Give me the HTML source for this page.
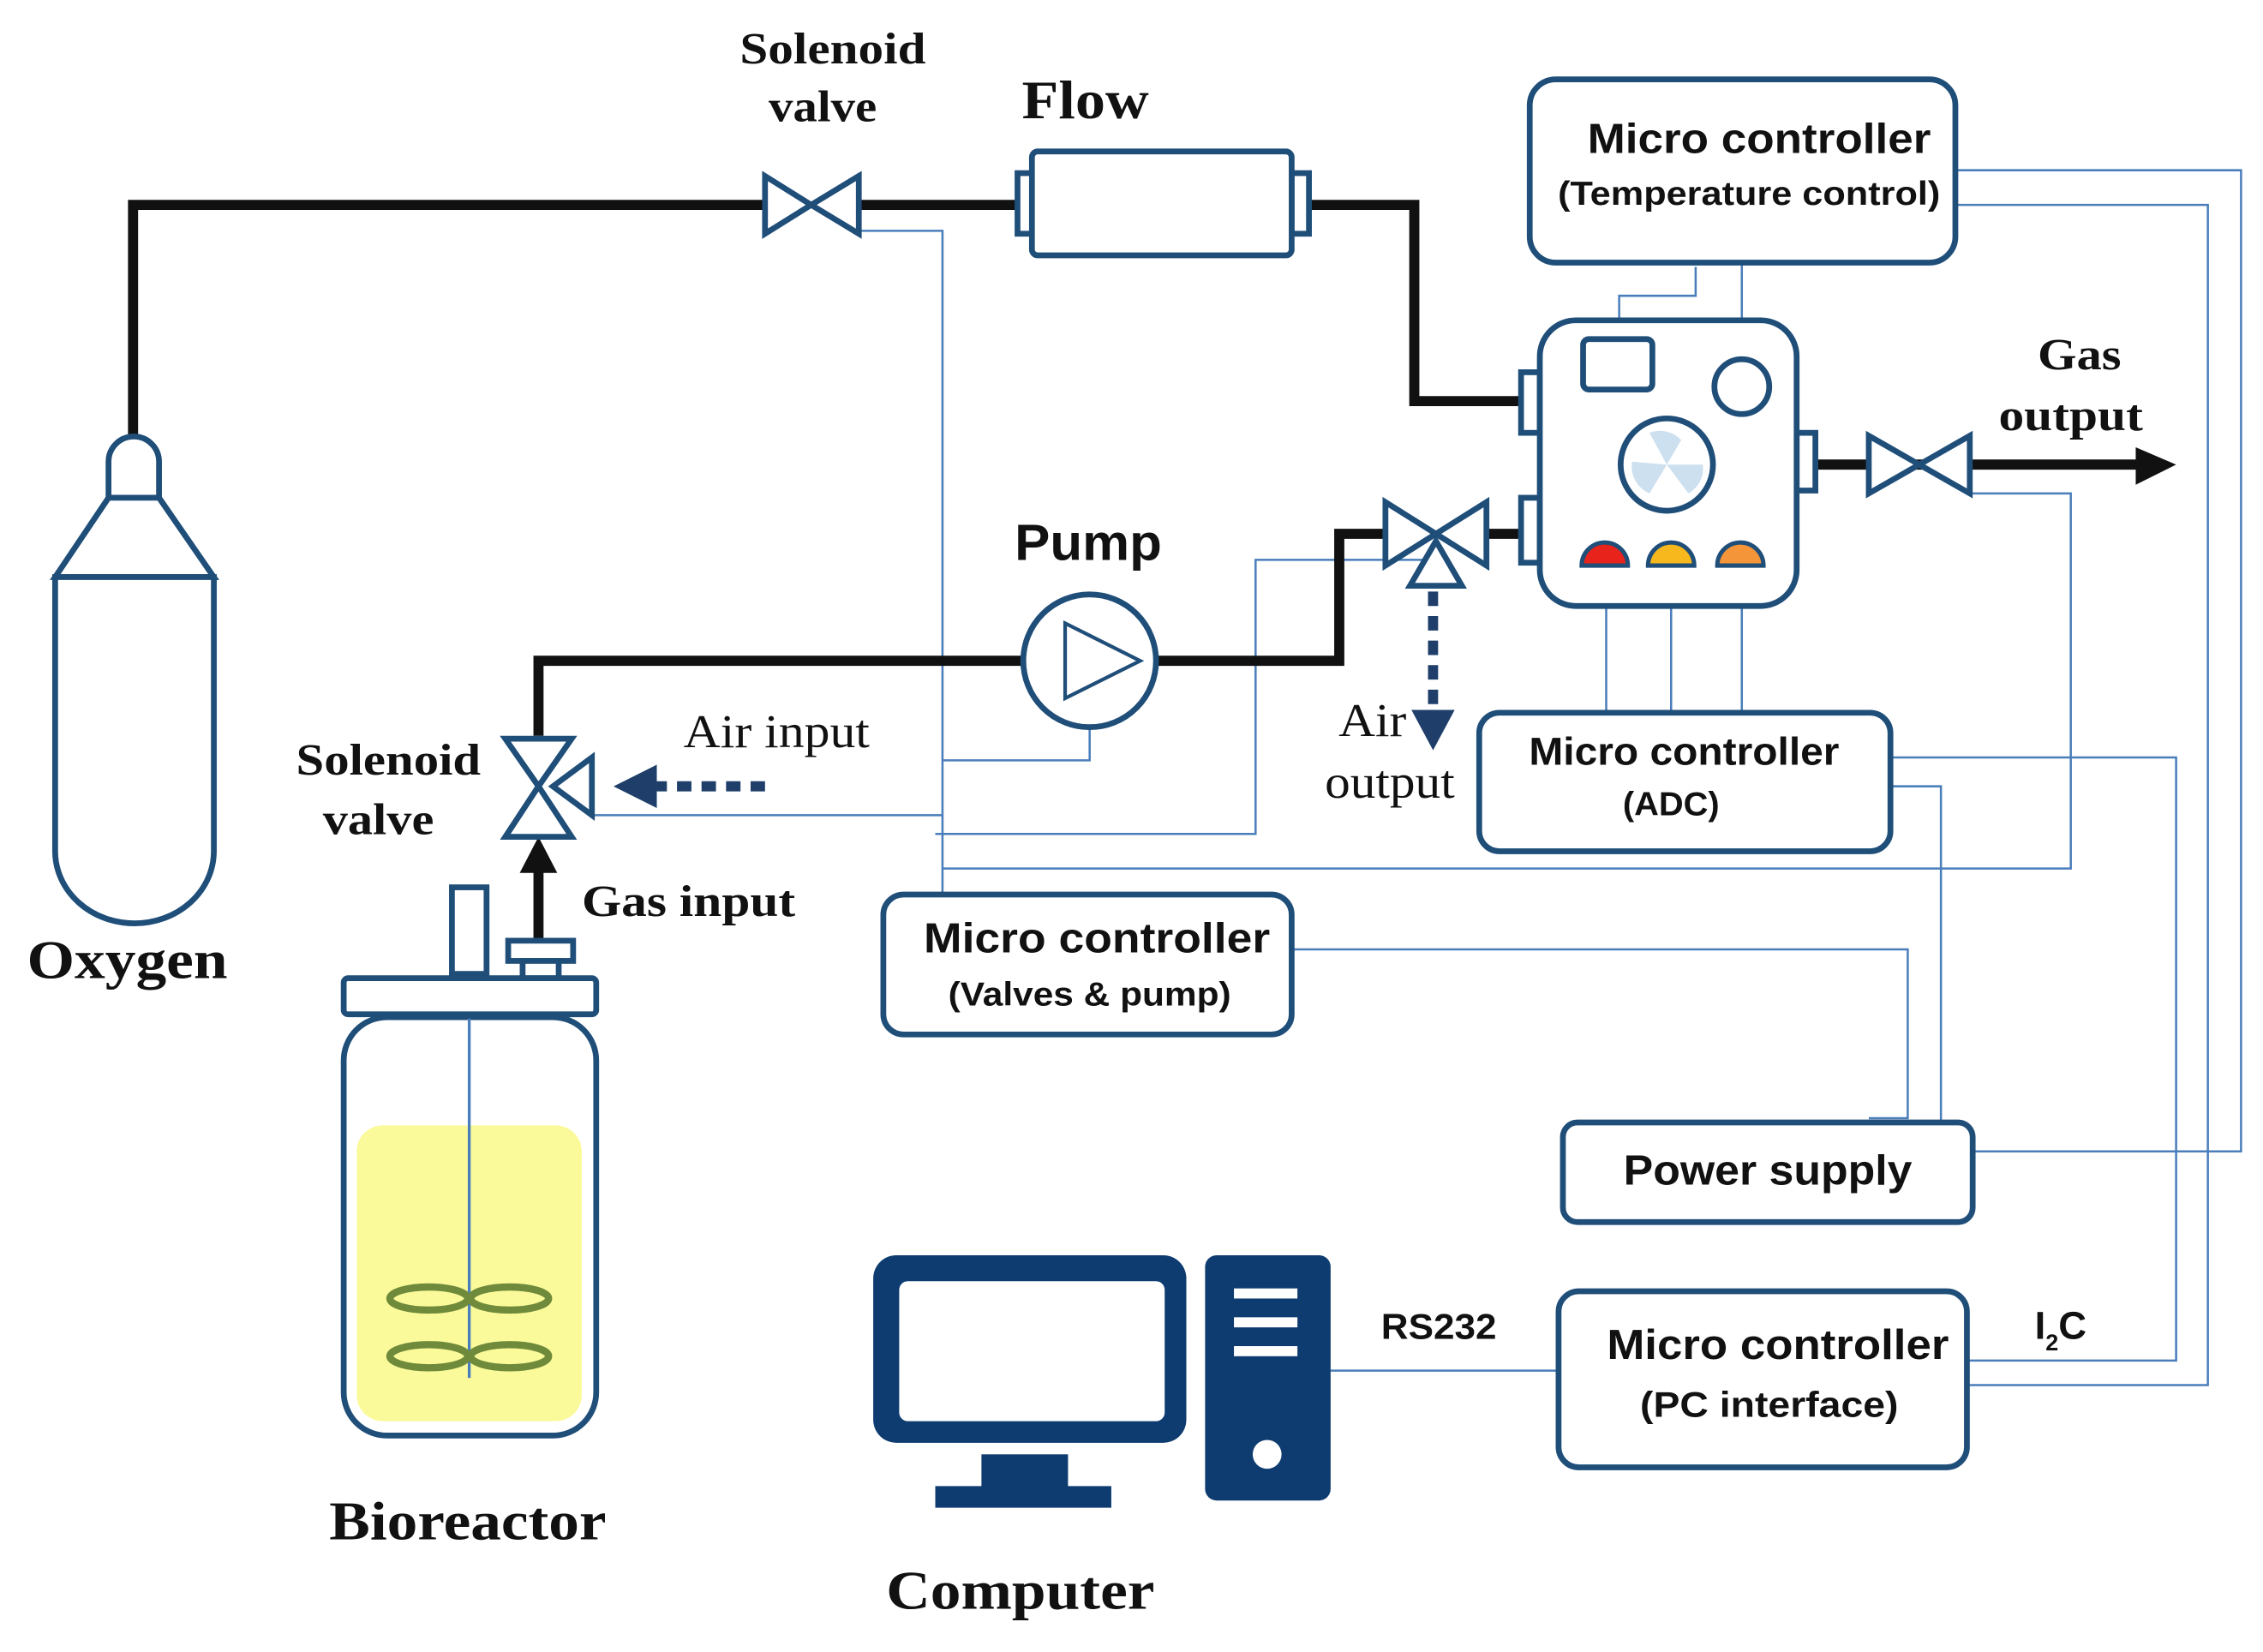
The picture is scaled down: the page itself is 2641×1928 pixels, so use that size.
<!DOCTYPE html>
<html><head><meta charset="utf-8"><style>html,body{margin:0;padding:0;background:#fff}svg{display:block}</style></head>
<body>
<svg width="2641" height="1928" viewBox="0 0 1568 1145" xmlns="http://www.w3.org/2000/svg">
<rect width="1568" height="1145" fill="#fff"/>
<g fill="none" stroke="#4a7ebb" stroke-width="1.5">
<path d="M595 160H653V620"/>
<path d="M755 505V527H653"/>
<path d="M410 565H653"/>
<path d="M995 388H870V578H648"/>
<path d="M653 602H1435V342H1365"/>
<path d="M1175 185V205H1122V235"/>
<path d="M1207 182V250"/>
<path d="M1355 118H1553V798H1367"/>
<path d="M1355 142H1530V960H1363"/>
<path d="M1113 395V494M1158 395V494M1207 395V494"/>
<path d="M1310 525H1508V943H1363"/>
<path d="M1310 545H1345V778"/>
<path d="M895 658H1322V775H1295"/>
<path d="M922 950H1080"/>
</g>
<g fill="none" stroke="#111" stroke-width="7">
<path d="M92 305V142H530M595 142H705M907 142H980V278H1060"/>
<path d="M1055 370H1030M960 370H928V458H800M710 458H373V510"/>
<path d="M1255 322H1482"/>
<path d="M373 650V600"/>
</g>
<polygon points="1480,310 1508,322 1480,336" fill="#111"/>
<polygon points="360,605 373,580 386,605" fill="#111"/>
<g fill="#fff" stroke="#1f4e79" stroke-width="4">
<path d="M75 345V320a17 17 0 0 1 35 0V345Z"/>
<path d="M75 345H110L148 400H38Z"/>
<path d="M38 400H148V590a55 50 0 0 1 -110 0Z"/>
<polygon points="530,122 562,142 530,162"/><polygon points="595,122 562,142 595,162"/>
<rect x="705" y="120" width="12" height="42"/><rect x="895" y="120" width="12" height="42"/>
<rect x="715" y="105" width="180" height="72" rx="4"/>
<rect x="1060" y="55" width="295" height="127" rx="18"/>
<rect x="1054" y="258" width="13" height="42"/><rect x="1054" y="345" width="13" height="45"/><rect x="1245" y="300" width="13" height="40"/>
<rect x="1067" y="222" width="178" height="198" rx="25"/>
<rect x="1097" y="235" width="48" height="35" rx="4"/>
<circle cx="1207" cy="268" r="19"/>
<circle cx="1155" cy="322" r="32"/>
<polygon points="1295,302 1330,322 1295,342"/><polygon points="1365,302 1330,322 1365,342"/>
<polygon points="960,348 995,370 960,392"/><polygon points="1030,348 995,370 1030,392"/>
<polygon points="995,375 977,406 1013,406"/>
<circle cx="755" cy="458" r="46"/>
<polygon points="738,432 790,458 738,484" stroke-width="2.5"/>
<polygon points="350,512 396,512 373,545"/><polygon points="350,580 396,580 373,545"/>
<polygon points="410,525 410,565 383,545"/>
<rect x="313" y="615" width="24" height="60"/>
<rect x="352" y="652" width="45" height="14"/><rect x="362" y="666" width="25" height="12"/>
<rect x="238" y="678" width="175" height="25" rx="3"/>
<rect x="238" y="705" width="175" height="290" rx="30"/>
<rect x="612" y="620" width="283" height="97" rx="14"/>
<rect x="1025" y="494" width="285" height="96" rx="14"/>
<rect x="1083" y="778" width="284" height="69" rx="10"/>
<rect x="1080" y="895" width="283" height="122" rx="14"/>
</g>
<rect x="247" y="780" width="156" height="205" rx="18" fill="#fbfa9b"/>
<line x1="325" y1="706" x2="325" y2="955" stroke="#4a7ebb" stroke-width="2"/>
<g fill="none" stroke="#6f8a3a" stroke-width="5">
<ellipse cx="297" cy="900" rx="27" ry="8"/><ellipse cx="353" cy="900" rx="27" ry="8"/>
<ellipse cx="297" cy="940" rx="27" ry="8"/><ellipse cx="353" cy="940" rx="27" ry="8"/>
</g>
<g fill="#cde0f0">
<path d="M1155 322l-12-22a20 20 0 0 1 22 5Z"/><path d="M1155 322l25 0a20 20 0 0 1 -10 20Z"/><path d="M1155 322l-12 20a20 20 0 0 1 -12 -22Z"/>
</g>
<g stroke="#1f4e79" stroke-width="3">
<path d="M1096 392a16 16 0 0 1 32 0Z" fill="#e8231c"/>
<path d="M1142 392a16 16 0 0 1 32 0Z" fill="#f6b81c"/>
<path d="M1190 392a16 16 0 0 1 32 0Z" fill="#f5953a"/>
</g>
<g stroke="#1f3f6a" stroke-width="7" stroke-dasharray="10 7" fill="none">
<path d="M530 545H455"/><path d="M993 410V495"/>
</g>
<polygon points="455,530 425,545 455,560" fill="#1f3f6a"/>
<polygon points="978,492 993,520 1008,492" fill="#1f3f6a"/>
<g fill="#0e3c70">
<rect x="605" y="870" width="217" height="130" rx="16"/>
<rect x="680" y="1008" width="60" height="24"/><rect x="648" y="1030" width="122" height="15"/>
<rect x="835" y="870" width="87" height="170" rx="8"/>
</g>
<rect x="623" y="888" width="184" height="97" rx="6" fill="#fff"/>
<g fill="#fff"><rect x="855" y="893" width="44" height="7"/><rect x="855" y="913" width="44" height="7"/><rect x="855" y="933" width="44" height="7"/><circle cx="878" cy="1008" r="10"/></g>
<g font-family="Liberation Serif, serif" font-weight="bold" fill="#111" text-anchor="middle" lengthAdjust="spacingAndGlyphs">
<text x="577" y="44" font-size="31" textLength="129" lengthAdjust="spacingAndGlyphs">Solenoid</text><text x="570" y="84" font-size="31" textLength="75" lengthAdjust="spacingAndGlyphs">valve</text>
<text x="752" y="82" font-size="38" textLength="88" lengthAdjust="spacingAndGlyphs">Flow</text>
<text x="88" y="678" font-size="38" textLength="139" lengthAdjust="spacingAndGlyphs">Oxygen</text>
<text x="269" y="537" font-size="31" textLength="128" lengthAdjust="spacingAndGlyphs">Solenoid</text><text x="262" y="578" font-size="31" textLength="77" lengthAdjust="spacingAndGlyphs">valve</text>
<text x="477" y="635" font-size="31" textLength="148" lengthAdjust="spacingAndGlyphs">Gas input</text>
<text x="324" y="1067" font-size="38" textLength="192" lengthAdjust="spacingAndGlyphs">Bioreactor</text>
<text x="707" y="1115" font-size="38" textLength="186" lengthAdjust="spacingAndGlyphs">Computer</text>
<text x="1441" y="256" font-size="31" textLength="58" lengthAdjust="spacingAndGlyphs">Gas</text><text x="1435" y="298" font-size="31" textLength="100" lengthAdjust="spacingAndGlyphs">output</text>
</g>
<g font-family="Liberation Serif, serif" fill="#111" text-anchor="middle" font-size="33">
<text x="538" y="518" textLength="129" lengthAdjust="spacingAndGlyphs">Air input</text>
<text x="951" y="510" textLength="47" lengthAdjust="spacingAndGlyphs">Air</text><text x="963" y="553" textLength="90" lengthAdjust="spacingAndGlyphs">output</text>
</g>
<g font-family="Liberation Sans, sans-serif" font-weight="bold" fill="#111" text-anchor="middle">
<text x="754" y="388" font-size="35" textLength="102" lengthAdjust="spacingAndGlyphs">Pump</text>
<text x="1219" y="106" font-size="29" textLength="238" lengthAdjust="spacingAndGlyphs">Micro controller</text><text x="1212" y="142" font-size="23" textLength="265" lengthAdjust="spacingAndGlyphs">(Temperature control)</text>
<text x="1167" y="530" font-size="27" textLength="215" lengthAdjust="spacingAndGlyphs">Micro controller</text><text x="1158" y="565" font-size="23" textLength="67" lengthAdjust="spacingAndGlyphs">(ADC)</text>
<text x="760" y="660" font-size="29" textLength="240" lengthAdjust="spacingAndGlyphs">Micro controller</text><text x="755" y="697" font-size="23" textLength="196" lengthAdjust="spacingAndGlyphs">(Valves &amp; pump)</text>
<text x="1225" y="821" font-size="29" textLength="200" lengthAdjust="spacingAndGlyphs">Power supply</text>
<text x="1232" y="942" font-size="29" textLength="237" lengthAdjust="spacingAndGlyphs">Micro controller</text><text x="1226" y="982" font-size="25" textLength="179" lengthAdjust="spacingAndGlyphs">(PC interface)</text>
<text x="997" y="928" font-size="25" textLength="80" lengthAdjust="spacingAndGlyphs">RS232</text>
<text x="1428" y="928" font-size="27">I<tspan font-size="16" dy="8">2</tspan><tspan dy="-8">C</tspan></text>
</g>
</svg>
</body></html>
